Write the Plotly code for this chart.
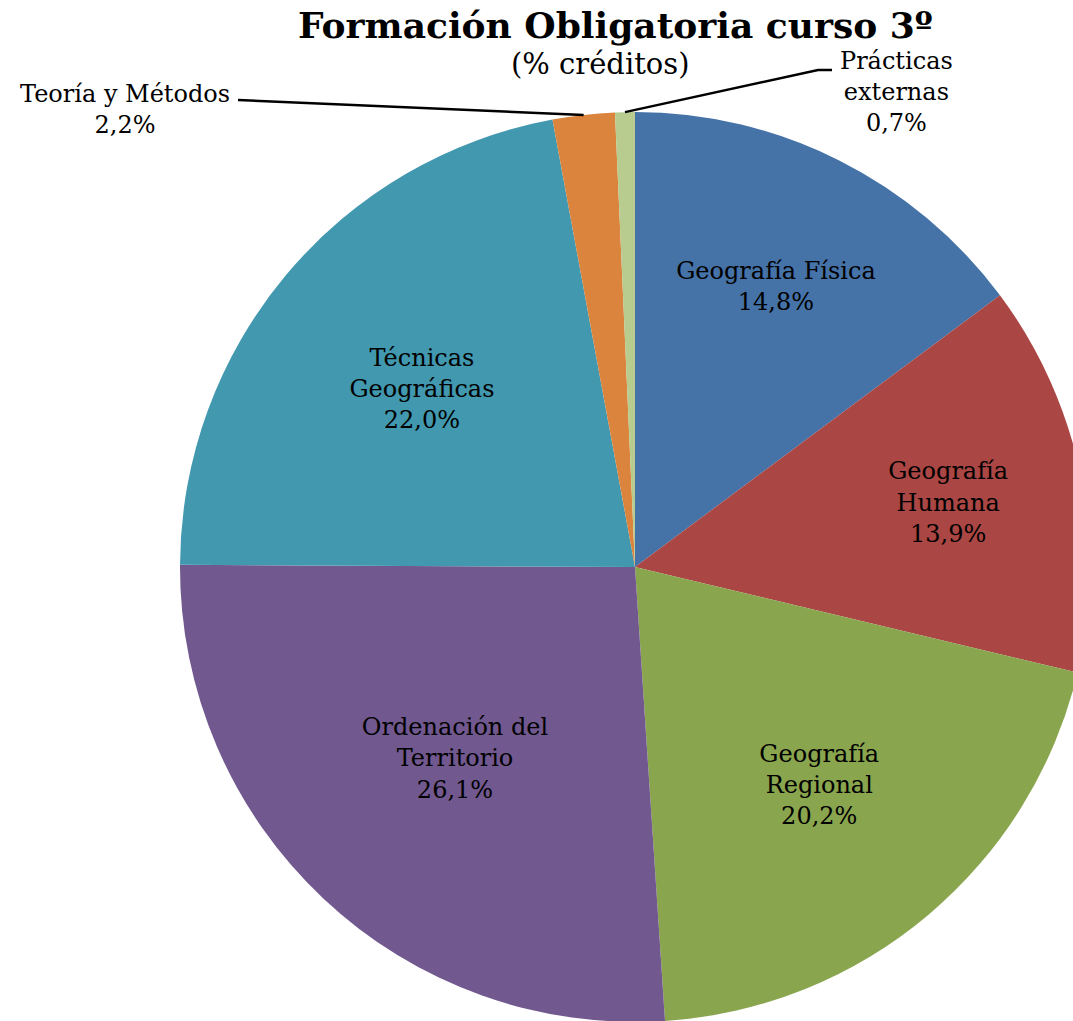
import math
import plotly.graph_objects as go

labels = ["Geografía Física", "Geografía<br>Humana", "Geografía<br>Regional",
          "Ordenación del<br>Territorio", "Técnicas<br>Geográficas",
          "Teoría y Métodos", "Prácticas<br>externas"]
values = [14.8, 13.9, 20.2, 26.1, 22.0, 2.2, 0.7]
colors = ["#4572A7", "#AA4643", "#89A54E", "#71588F", "#4198AF", "#DB843D", "#B7CC8E"]
title_text = "Formación Obligatoria curso 3º"
subtitle_text = "(% créditos)"

FONT = "DejaVu Serif"
LABEL_SIZE = 24
W, H = 1100, 1030
ML, MR, MT, MB = 180, 10, 112, 8
PW, PH = W - ML - MR, H - MT - MB
CX, CY, R = ML + PW / 2, MT + PH / 2, min(PW, PH) / 2


def px(x):
    return (x - ML) / PW


def py(y):
    return 1 - (y - MT) / PH


n_inside = 5
textpos = ["inside"] * n_inside + ["none"] * (len(values) - n_inside)

fig = go.Figure(go.Pie(
    labels=labels, values=values, sort=False, direction="clockwise", rotation=0,
    marker=dict(colors=colors, line=dict(width=0)),
    texttemplate="%{label}<br>%{value:.1f}%", textposition=textpos,
    insidetextorientation="horizontal",
    textfont=dict(family=FONT, size=LABEL_SIZE, color="black"),
    showlegend=False, hoverinfo="label+value",
    domain=dict(x=[0, 1], y=[0, 1]),
))

total = sum(values)
cum = 0
mids = []
for v in values:
    mids.append((cum + v / 2) / total * 2 * math.pi)
    cum += v


def edge_point(i):
    a = mids[i]
    return CX + R * math.sin(a), CY - R * math.cos(a)


shapes = []
annotations = []
# Teoría y Métodos
tx, ty = edge_point(5)
shapes.append(dict(type="path", xref="paper", yref="paper",
                   path=f"M {px(tx)},{py(ty)} L {px(238)},{py(100)}",
                   line=dict(color="black", width=2.5)))
annotations.append(dict(xref="paper", yref="paper", x=px(125), y=py(109),
                        text="Teoría y Métodos<br>" + f"{values[5]:.1f}%".replace(".", ","),
                        showarrow=False, font=dict(family=FONT, size=LABEL_SIZE, color="black"),
                        xanchor="center", yanchor="middle"))
# Prácticas externas
tx, ty = edge_point(6)
shapes.append(dict(type="path", xref="paper", yref="paper",
                   path=f"M {px(tx)},{py(ty)} L {px(818)},{py(70)} L {px(832)},{py(70)}",
                   line=dict(color="black", width=2.5)))
annotations.append(dict(xref="paper", yref="paper", x=px(896), y=py(92),
                        text="Prácticas<br>externas<br>" + f"{values[6]:.1f}%".replace(".", ","),
                        showarrow=False, font=dict(family=FONT, size=LABEL_SIZE, color="black"),
                        xanchor="center", yanchor="middle"))
# Title
annotations.append(dict(xref="paper", yref="paper", x=px(615), y=py(25),
                        text="<b>" + title_text + "</b>", showarrow=False,
                        font=dict(family=FONT, size=36, color="black"),
                        xanchor="center", yanchor="middle"))
annotations.append(dict(xref="paper", yref="paper", x=px(600), y=py(64),
                        text=subtitle_text, showarrow=False,
                        font=dict(family=FONT, size=29, color="black"),
                        xanchor="center", yanchor="middle"))

fig.update_layout(
    width=W, height=H, margin=dict(l=ML, r=MR, t=MT, b=MB, autoexpand=False),
    paper_bgcolor="white", plot_bgcolor="white",
    separators=",.", shapes=shapes, annotations=annotations,
    font=dict(family=FONT, color="black"),
)

fig.write_html("out.html", config={"displayModeBar": False},
               post_script="document.body.style.margin='0';document.body.style.overflow='hidden';")
